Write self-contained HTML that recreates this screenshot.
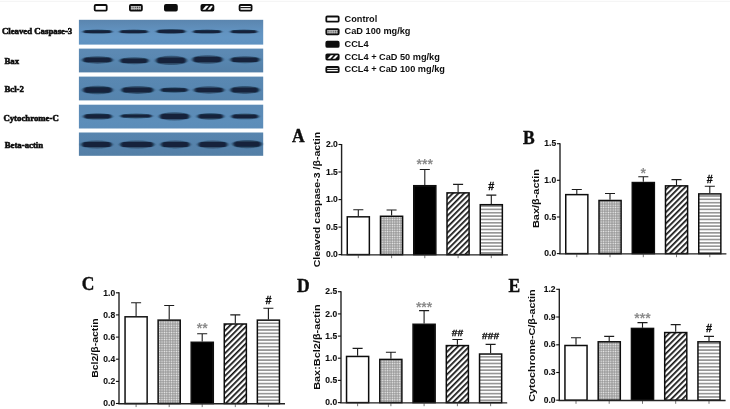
<!DOCTYPE html>
<html><head><meta charset="utf-8"><title>Figure</title>
<style>
html,body{margin:0;padding:0;background:#fff;}
body{width:730px;height:409px;overflow:hidden;}
svg{display:block;}
.sans{font-family:"Liberation Sans",sans-serif;font-weight:bold;fill:#111;}
.serif{font-family:"Liberation Serif",serif;font-weight:bold;fill:#111;}
</style></head><body>
<svg width="730" height="409" viewBox="0 0 730 409">
<defs>
<pattern id="pdot" width="2.4" height="2.4" patternUnits="userSpaceOnUse"><rect width="2.4" height="2.4" fill="#8a8a8a"/><rect x="0.45" y="0.45" width="1.5" height="1.5" fill="#f2f2f2"/></pattern>
<pattern id="pdotk" width="2.2" height="2.2" patternUnits="userSpaceOnUse"><rect width="2.2" height="2.2" fill="#c4c4c4"/><rect x="0.5" y="0.5" width="1.1" height="1.1" fill="#2a2a2a"/></pattern>
<pattern id="pdiag" width="4" height="4" patternUnits="userSpaceOnUse" patternTransform="rotate(-45)"><rect width="4" height="4" fill="#fff"/><rect width="4" height="1.7" fill="#111"/></pattern>
<pattern id="phor" width="4" height="3.35" patternUnits="userSpaceOnUse"><rect width="4" height="3.35" fill="#fff"/><rect y="1.25" width="4" height="0.85" fill="#333"/></pattern>
<linearGradient id="blot0" x1="0" y1="0" x2="0" y2="1"><stop offset="0" stop-color="rgb(90,133,174)"/><stop offset="0.4" stop-color="rgb(97,145,190)"/><stop offset="0.7" stop-color="rgb(100,150,196)"/><stop offset="1" stop-color="rgb(96,146,192)"/></linearGradient>
<linearGradient id="blot1" x1="0" y1="0" x2="0" y2="1"><stop offset="0" stop-color="rgb(92,138,180)"/><stop offset="0.4" stop-color="rgb(90,136,178)"/><stop offset="0.7" stop-color="rgb(86,131,172)"/><stop offset="1" stop-color="rgb(83,127,167)"/></linearGradient>
<linearGradient id="blot2" x1="0" y1="0" x2="0" y2="1"><stop offset="0" stop-color="rgb(90,136,178)"/><stop offset="0.4" stop-color="rgb(89,135,177)"/><stop offset="0.7" stop-color="rgb(87,133,175)"/><stop offset="1" stop-color="rgb(85,131,172)"/></linearGradient>
<linearGradient id="blot3" x1="0" y1="0" x2="0" y2="1"><stop offset="0" stop-color="rgb(91,138,181)"/><stop offset="0.4" stop-color="rgb(92,140,183)"/><stop offset="0.7" stop-color="rgb(93,142,186)"/><stop offset="1" stop-color="rgb(91,140,184)"/></linearGradient>
<linearGradient id="blot4" x1="0" y1="0" x2="0" y2="1"><stop offset="0" stop-color="rgb(88,133,174)"/><stop offset="0.4" stop-color="rgb(87,131,172)"/><stop offset="0.7" stop-color="rgb(85,129,169)"/><stop offset="1" stop-color="rgb(83,127,166)"/></linearGradient>

<filter id="b1" x="-10%" y="-60%" width="120%" height="220%"><feGaussianBlur stdDeviation="1.1 0.6"/></filter>
<filter id="soft"><feGaussianBlur stdDeviation="0.45"/></filter>
</defs>
<rect width="730" height="409" fill="#fff"/>
<rect y="0.8" width="730" height="1" fill="#f3f3f3"/>
<g filter="url(#soft)">
<rect x="78.9" y="19.8" width="184.3" height="24.8" fill="url(#blot0)"/>
<g filter="url(#b1)"><ellipse cx="97.5" cy="31.7" rx="15.5" ry="2.08" fill="#1a334d" opacity="0.6"/><rect x="84.0" y="30.36" width="27.0" height="2.69" rx="1.34" fill="#12243a"/><ellipse cx="133.8" cy="31.7" rx="15.2" ry="2.08" fill="#1a334d" opacity="0.6"/><rect x="120.5" y="30.36" width="26.5" height="2.69" rx="1.34" fill="#12243a"/><ellipse cx="171.0" cy="31.4" rx="15.5" ry="2.48" fill="#1a334d" opacity="0.6"/><rect x="157.5" y="29.80" width="27.0" height="3.20" rx="1.60" fill="#12243a"/><ellipse cx="207.2" cy="31.7" rx="15.2" ry="2.08" fill="#1a334d" opacity="0.6"/><rect x="194.0" y="30.36" width="26.5" height="2.69" rx="1.34" fill="#12243a"/><ellipse cx="243.9" cy="31.7" rx="14.4" ry="2.08" fill="#1a334d" opacity="0.6"/><rect x="231.5" y="30.36" width="24.8" height="2.69" rx="1.34" fill="#12243a"/></g>
<rect x="78.9" y="48.6" width="184.3" height="23.8" fill="url(#blot1)"/>
<g filter="url(#b1)"><ellipse cx="97.5" cy="60.0" rx="16.0" ry="3.68" fill="#1a334d" opacity="0.6"/><rect x="83.5" y="57.62" width="28.0" height="4.75" rx="2.38" fill="#12243a"/><ellipse cx="134.2" cy="60.8" rx="15.2" ry="3.46" fill="#1a334d" opacity="0.6"/><rect x="121.0" y="58.57" width="26.5" height="4.46" rx="2.23" fill="#12243a"/><ellipse cx="171.2" cy="60.4" rx="16.2" ry="4.58" fill="#1a334d" opacity="0.6"/><rect x="157.0" y="57.45" width="28.5" height="5.90" rx="2.95" fill="#12243a"/><ellipse cx="207.5" cy="59.4" rx="16.0" ry="4.24" fill="#1a334d" opacity="0.6"/><rect x="193.5" y="56.66" width="28.0" height="5.47" rx="2.74" fill="#12243a"/><ellipse cx="245.0" cy="59.7" rx="15.5" ry="3.46" fill="#1a334d" opacity="0.6"/><rect x="231.5" y="57.47" width="27.0" height="4.46" rx="2.23" fill="#12243a"/></g>
<rect x="78.9" y="76.6" width="184.3" height="23.8" fill="url(#blot2)"/>
<g filter="url(#b1)"><ellipse cx="97.7" cy="90.0" rx="15.8" ry="4.24" fill="#1a334d" opacity="0.6"/><rect x="83.9" y="87.26" width="27.6" height="5.47" rx="2.74" fill="#12243a"/><ellipse cx="137.5" cy="90.0" rx="17.0" ry="3.89" fill="#1a334d" opacity="0.6"/><rect x="122.5" y="87.49" width="30.0" height="5.02" rx="2.51" fill="#12243a"/><ellipse cx="174.2" cy="90.0" rx="14.7" ry="2.83" fill="#1a334d" opacity="0.6"/><rect x="161.5" y="88.18" width="25.4" height="3.65" rx="1.82" fill="#12243a"/><ellipse cx="209.0" cy="90.0" rx="15.9" ry="3.65" fill="#1a334d" opacity="0.6"/><rect x="195.1" y="87.64" width="27.8" height="4.71" rx="2.36" fill="#12243a"/><ellipse cx="244.8" cy="90.0" rx="15.3" ry="3.89" fill="#1a334d" opacity="0.6"/><rect x="231.5" y="87.49" width="26.6" height="5.02" rx="2.51" fill="#12243a"/></g>
<rect x="78.9" y="104.7" width="184.3" height="23.8" fill="url(#blot3)"/>
<g filter="url(#b1)"><ellipse cx="97.7" cy="116.4" rx="15.2" ry="3.19" fill="#1a334d" opacity="0.6"/><rect x="84.5" y="114.34" width="26.4" height="4.12" rx="2.06" fill="#12243a"/><ellipse cx="136.2" cy="116.0" rx="16.7" ry="2.51" fill="#1a334d" opacity="0.6"/><rect x="121.5" y="114.38" width="29.4" height="3.24" rx="1.62" fill="#12243a"/><ellipse cx="174.5" cy="116.4" rx="16.0" ry="4.11" fill="#1a334d" opacity="0.6"/><rect x="160.5" y="113.75" width="28.0" height="5.30" rx="2.65" fill="#12243a"/><ellipse cx="210.5" cy="116.4" rx="14.0" ry="3.31" fill="#1a334d" opacity="0.6"/><rect x="198.5" y="114.27" width="24.0" height="4.27" rx="2.13" fill="#12243a"/><ellipse cx="245.0" cy="116.4" rx="14.5" ry="2.97" fill="#1a334d" opacity="0.6"/><rect x="232.5" y="114.49" width="25.0" height="3.83" rx="1.91" fill="#12243a"/></g>
<rect x="78.9" y="132.5" width="184.3" height="23.3" fill="url(#blot4)"/>
<g filter="url(#b1)"><ellipse cx="96.7" cy="144.5" rx="16.2" ry="4.01" fill="#1a334d" opacity="0.6"/><rect x="82.5" y="141.92" width="28.4" height="5.17" rx="2.58" fill="#12243a"/><ellipse cx="137.0" cy="144.5" rx="17.9" ry="4.01" fill="#1a334d" opacity="0.6"/><rect x="121.1" y="141.92" width="31.8" height="5.17" rx="2.58" fill="#12243a"/><ellipse cx="175.4" cy="144.5" rx="15.5" ry="3.89" fill="#1a334d" opacity="0.6"/><rect x="161.9" y="141.99" width="27.0" height="5.02" rx="2.51" fill="#12243a"/><ellipse cx="212.8" cy="144.5" rx="15.7" ry="4.01" fill="#1a334d" opacity="0.6"/><rect x="199.1" y="141.92" width="27.4" height="5.17" rx="2.58" fill="#12243a"/><ellipse cx="247.2" cy="144.1" rx="15.3" ry="4.12" fill="#1a334d" opacity="0.6"/><rect x="233.9" y="141.44" width="26.6" height="5.32" rx="2.66" fill="#12243a"/></g>
<text class="serif" transform="translate(1.9 34.1) scale(0.975 1)" font-size="9" stroke="#111" stroke-width="0.6">Cleaved Caspase-3</text>
<text class="serif" transform="translate(4.4 63.5) scale(0.975 1)" font-size="9" stroke="#111" stroke-width="0.6">Bax</text>
<text class="serif" transform="translate(4.4 91.9) scale(0.975 1)" font-size="9" stroke="#111" stroke-width="0.6">Bcl-2</text>
<text class="serif" transform="translate(3.4 120.9) scale(0.975 1)" font-size="9" stroke="#111" stroke-width="0.6">Cytochrome-C</text>
<text class="serif" transform="translate(4.7 148.0) scale(0.975 1)" font-size="9" stroke="#111" stroke-width="0.6">Beta-actin</text>
<rect x="94.7" y="5.0" width="12.0" height="5.6" rx="1" fill="#fff" stroke="#111" stroke-width="1.8"/>
<rect x="129.9" y="5.0" width="12.0" height="5.6" rx="1" fill="url(#pdotk)" stroke="#111" stroke-width="1.8"/>
<rect x="164.9" y="5.0" width="12.0" height="5.6" rx="1" fill="#111" stroke="#111" stroke-width="1.8"/>
<rect x="201.4" y="5.0" width="12.0" height="5.6" rx="1" fill="#111" stroke="#111" stroke-width="1.8"/><path d="M202.50 9.80 L205.90 5.80 L208.70 5.80 L205.30 9.80 Z M207.50 9.80 L210.90 5.80 L212.50 5.80 L212.50 6.60 L210.30 9.80 Z" fill="#fff"/>
<rect x="239.6" y="5.0" width="12.0" height="5.6" rx="1" fill="#fff" stroke="#111" stroke-width="1.8"/><rect x="240.29999999999998" y="7.05" width="10.6" height="1.1" fill="#111"/>
<rect x="326.3" y="16.5" width="12.4" height="5.2" rx="1" fill="#fff" stroke="#111" stroke-width="1.8"/>
<text class="sans" x="344.6" y="21.8" font-size="9.2">Control</text>
<rect x="326.3" y="29.119999999999997" width="12.4" height="5.2" rx="1" fill="url(#pdotk)" stroke="#111" stroke-width="1.8"/>
<text class="sans" x="344.6" y="34.4" font-size="9.2">CaD 100 mg/kg</text>
<rect x="326.3" y="41.74" width="12.4" height="5.2" rx="1" fill="#111" stroke="#111" stroke-width="1.8"/>
<text class="sans" x="344.6" y="47.0" font-size="9.2">CCL4</text>
<rect x="326.3" y="54.36" width="12.4" height="5.2" rx="1" fill="#111" stroke="#111" stroke-width="1.8"/><path d="M327.40 58.76 L330.80 55.16 L333.60 55.16 L330.20 58.76 Z M332.40 58.76 L335.80 55.16 L337.80 55.16 L337.80 55.96 L335.20 58.76 Z" fill="#fff"/>
<text class="sans" x="344.6" y="59.7" font-size="9.2">CCL4 + CaD 50 mg/kg</text>
<rect x="326.3" y="66.98" width="12.4" height="5.2" rx="1" fill="#fff" stroke="#111" stroke-width="1.8"/><rect x="327.0" y="68.83" width="11.0" height="1.1" fill="#111"/>
<text class="sans" x="344.6" y="72.3" font-size="9.2">CCL4 + CaD 100 mg/kg</text>
<path d="M358.3 216.1 V209.7 M353.3 209.7 H363.3" stroke="#1a1a1a" stroke-width="1.1" fill="none"/><rect x="347.25" y="216.81" width="22.10" height="37.78" fill="#fff" stroke="#111" stroke-width="1.5"/><path d="M358.3 254.6 v3.6" stroke="#666" stroke-width="0.9"/>
<path d="M391.6 215.5 V210.0 M386.6 210.0 H396.6" stroke="#1a1a1a" stroke-width="1.1" fill="none"/><rect x="380.50" y="216.26" width="22.10" height="38.34" fill="url(#pdot)" stroke="#111" stroke-width="1.5"/><path d="M391.6 254.6 v3.6" stroke="#666" stroke-width="0.9"/>
<path d="M424.8 185.0 V169.5 M419.8 169.5 H429.8" stroke="#1a1a1a" stroke-width="1.1" fill="none"/><rect x="413.75" y="185.71" width="22.10" height="68.89" fill="#000" stroke="#111" stroke-width="1.5"/><path d="M424.8 254.6 v3.6" stroke="#666" stroke-width="0.9"/>
<path d="M458.1 192.1 V184.4 M453.1 184.4 H463.1" stroke="#1a1a1a" stroke-width="1.1" fill="none"/><rect x="447.00" y="192.87" width="22.10" height="61.73" fill="url(#pdiag)" stroke="#111" stroke-width="1.5"/><path d="M458.1 254.6 v3.6" stroke="#666" stroke-width="0.9"/>
<path d="M491.3 204.0 V195.1 M486.3 195.1 H496.3" stroke="#1a1a1a" stroke-width="1.1" fill="none"/><rect x="480.25" y="204.70" width="22.10" height="49.90" fill="url(#phor)" stroke="#111" stroke-width="1.5"/><path d="M491.3 254.6 v3.6" stroke="#666" stroke-width="0.9"/>
<path d="M341.6 144.0 V254.9 H507.9" stroke="#222" stroke-width="1.4" fill="none"/><path d="M338.5 254.6 H341.6" stroke="#111" stroke-width="1.1"/><text class="sans" x="337.8" y="257.3" font-size="8.5" text-anchor="end" stroke="#111" stroke-width="0.12">0.0</text><path d="M338.5 227.1 H341.6" stroke="#111" stroke-width="1.1"/><text class="sans" x="337.8" y="229.8" font-size="8.5" text-anchor="end" stroke="#111" stroke-width="0.12">0.5</text><path d="M338.5 199.6 H341.6" stroke="#111" stroke-width="1.1"/><text class="sans" x="337.8" y="202.2" font-size="8.5" text-anchor="end" stroke="#111" stroke-width="0.12">1.0</text><path d="M338.5 172.0 H341.6" stroke="#111" stroke-width="1.1"/><text class="sans" x="337.8" y="174.7" font-size="8.5" text-anchor="end" stroke="#111" stroke-width="0.12">1.5</text><path d="M338.5 144.5 H341.6" stroke="#111" stroke-width="1.1"/><text class="sans" x="337.8" y="147.2" font-size="8.5" text-anchor="end" stroke="#111" stroke-width="0.12">2.0</text>
<text class="sans" transform="translate(320.0 199.6) rotate(-90) scale(1.105 1)" font-size="9.6" text-anchor="middle">Cleaved caspase-3 /β-actin</text>
<text class="serif" transform="translate(292.1 141.8) scale(1 1.02)" font-size="17.5" stroke="#111" stroke-width="0.4">A</text>
<text x="424.8" y="168.9" font-size="14" text-anchor="middle" fill="#8c8c8c" font-weight="bold" font-family="'Liberation Sans',sans-serif">***</text><text class="sans" transform="translate(491.3 189.9) scale(1.04 1)" font-size="10.4" text-anchor="middle" stroke="#111" stroke-width="0.3">#</text>
<path d="M576.8 193.9 V189.5 M571.8 189.5 H581.8" stroke="#1a1a1a" stroke-width="1.1" fill="none"/><rect x="565.75" y="194.64" width="22.10" height="58.96" fill="#fff" stroke="#111" stroke-width="1.5"/><path d="M576.8 253.6 v3.6" stroke="#666" stroke-width="0.9"/>
<path d="M610.0 199.7 V193.5 M605.0 193.5 H615.0" stroke="#1a1a1a" stroke-width="1.1" fill="none"/><rect x="599.00" y="200.50" width="22.10" height="53.10" fill="url(#pdot)" stroke="#111" stroke-width="1.5"/><path d="M610.0 253.6 v3.6" stroke="#666" stroke-width="0.9"/>
<path d="M643.3 181.8 V176.7 M638.3 176.7 H648.3" stroke="#1a1a1a" stroke-width="1.1" fill="none"/><rect x="632.25" y="182.55" width="22.10" height="71.05" fill="#000" stroke="#111" stroke-width="1.5"/><path d="M643.3 253.6 v3.6" stroke="#666" stroke-width="0.9"/>
<path d="M676.5 185.1 V179.6 M671.5 179.6 H681.5" stroke="#1a1a1a" stroke-width="1.1" fill="none"/><rect x="665.50" y="185.85" width="22.10" height="67.75" fill="url(#pdiag)" stroke="#111" stroke-width="1.5"/><path d="M676.5 253.6 v3.6" stroke="#666" stroke-width="0.9"/>
<path d="M709.8 193.2 V186.2 M704.8 186.2 H714.8" stroke="#1a1a1a" stroke-width="1.1" fill="none"/><rect x="698.75" y="193.91" width="22.10" height="59.69" fill="url(#phor)" stroke="#111" stroke-width="1.5"/><path d="M709.8 253.6 v3.6" stroke="#666" stroke-width="0.9"/>
<path d="M560 143.2 V253.9 H726.4" stroke="#222" stroke-width="1.4" fill="none"/><path d="M556.9 253.6 H560" stroke="#111" stroke-width="1.1"/><text class="sans" x="556.2" y="256.3" font-size="8.5" text-anchor="end" stroke="#111" stroke-width="0.12">0.0</text><path d="M556.9 217.0 H560" stroke="#111" stroke-width="1.1"/><text class="sans" x="556.2" y="219.7" font-size="8.5" text-anchor="end" stroke="#111" stroke-width="0.12">0.5</text><path d="M556.9 180.3 H560" stroke="#111" stroke-width="1.1"/><text class="sans" x="556.2" y="183.0" font-size="8.5" text-anchor="end" stroke="#111" stroke-width="0.12">1.0</text><path d="M556.9 143.7 H560" stroke="#111" stroke-width="1.1"/><text class="sans" x="556.2" y="146.4" font-size="8.5" text-anchor="end" stroke="#111" stroke-width="0.12">1.5</text>
<text class="sans" transform="translate(539.2 198.6) rotate(-90) scale(1.142 1)" font-size="9.6" text-anchor="middle">Bax/β-actin</text>
<text class="serif" transform="translate(522.9 144.4) scale(1 1.02)" font-size="17.5" stroke="#111" stroke-width="0.4">B</text>
<text x="643.3" y="178.2" font-size="14" text-anchor="middle" fill="#8c8c8c" font-weight="bold" font-family="'Liberation Sans',sans-serif">*</text><text class="sans" transform="translate(709.8 183.3) scale(1.04 1)" font-size="10.4" text-anchor="middle" stroke="#111" stroke-width="0.3">#</text>
<path d="M136.1 316.0 V302.8 M131.1 302.8 H141.1" stroke="#1a1a1a" stroke-width="1.1" fill="none"/><rect x="125.05" y="316.80" width="22.10" height="86.70" fill="#fff" stroke="#111" stroke-width="1.5"/><path d="M136.1 403.5 v3.6" stroke="#666" stroke-width="0.9"/>
<path d="M169.2 319.4 V305.5 M164.2 305.5 H174.2" stroke="#1a1a1a" stroke-width="1.1" fill="none"/><rect x="158.12" y="320.12" width="22.10" height="83.38" fill="url(#pdot)" stroke="#111" stroke-width="1.5"/><path d="M169.2 403.5 v3.6" stroke="#666" stroke-width="0.9"/>
<path d="M202.2 341.5 V333.8 M197.2 333.8 H207.2" stroke="#1a1a1a" stroke-width="1.1" fill="none"/><rect x="191.19" y="342.26" width="22.10" height="61.24" fill="#000" stroke="#111" stroke-width="1.5"/><path d="M202.2 403.5 v3.6" stroke="#666" stroke-width="0.9"/>
<path d="M235.3 323.2 V314.9 M230.3 314.9 H240.3" stroke="#1a1a1a" stroke-width="1.1" fill="none"/><rect x="224.26" y="323.99" width="22.10" height="79.51" fill="url(#pdiag)" stroke="#111" stroke-width="1.5"/><path d="M235.3 403.5 v3.6" stroke="#666" stroke-width="0.9"/>
<path d="M268.4 319.4 V308.3 M263.4 308.3 H273.4" stroke="#1a1a1a" stroke-width="1.1" fill="none"/><rect x="257.33" y="320.12" width="22.10" height="83.38" fill="url(#phor)" stroke="#111" stroke-width="1.5"/><path d="M268.4 403.5 v3.6" stroke="#666" stroke-width="0.9"/>
<path d="M119.0 292.3 V403.8 H285.0" stroke="#222" stroke-width="1.4" fill="none"/><path d="M115.9 403.5 H119.0" stroke="#111" stroke-width="1.1"/><text class="sans" x="115.2" y="406.2" font-size="8.5" text-anchor="end" stroke="#111" stroke-width="0.12">0.0</text><path d="M115.9 381.4 H119.0" stroke="#111" stroke-width="1.1"/><text class="sans" x="115.2" y="384.1" font-size="8.5" text-anchor="end" stroke="#111" stroke-width="0.12">0.2</text><path d="M115.9 359.2 H119.0" stroke="#111" stroke-width="1.1"/><text class="sans" x="115.2" y="361.9" font-size="8.5" text-anchor="end" stroke="#111" stroke-width="0.12">0.4</text><path d="M115.9 337.1 H119.0" stroke="#111" stroke-width="1.1"/><text class="sans" x="115.2" y="339.8" font-size="8.5" text-anchor="end" stroke="#111" stroke-width="0.12">0.6</text><path d="M115.9 314.9 H119.0" stroke="#111" stroke-width="1.1"/><text class="sans" x="115.2" y="317.6" font-size="8.5" text-anchor="end" stroke="#111" stroke-width="0.12">0.8</text><path d="M115.9 292.8 H119.0" stroke="#111" stroke-width="1.1"/><text class="sans" x="115.2" y="295.5" font-size="8.5" text-anchor="end" stroke="#111" stroke-width="0.12">1.0</text>
<text class="sans" transform="translate(97.6 348.1) rotate(-90) scale(1.095 1)" font-size="9.6" text-anchor="middle">Bcl2/β-actin</text>
<text class="serif" transform="translate(81.8 289.9) scale(1 1.02)" font-size="17.5" stroke="#111" stroke-width="0.4">C</text>
<text x="202.2" y="332.6" font-size="14" text-anchor="middle" fill="#8c8c8c" font-weight="bold" font-family="'Liberation Sans',sans-serif">**</text><text class="sans" transform="translate(268.4 303.9) scale(1.04 1)" font-size="10.4" text-anchor="middle" stroke="#111" stroke-width="0.3">#</text>
<path d="M357.6 355.7 V348.4 M352.6 348.4 H362.6" stroke="#1a1a1a" stroke-width="1.1" fill="none"/><rect x="346.55" y="356.46" width="22.10" height="46.14" fill="#fff" stroke="#111" stroke-width="1.5"/><path d="M357.6 402.6 v3.6" stroke="#666" stroke-width="0.9"/>
<path d="M390.9 358.7 V352.3 M385.9 352.3 H395.9" stroke="#1a1a1a" stroke-width="1.1" fill="none"/><rect x="379.80" y="359.43" width="22.10" height="43.17" fill="url(#pdot)" stroke="#111" stroke-width="1.5"/><path d="M390.9 402.6 v3.6" stroke="#666" stroke-width="0.9"/>
<path d="M424.1 323.5 V310.6 M419.1 310.6 H429.1" stroke="#1a1a1a" stroke-width="1.1" fill="none"/><rect x="413.05" y="324.26" width="22.10" height="78.34" fill="#000" stroke="#111" stroke-width="1.5"/><path d="M424.1 402.6 v3.6" stroke="#666" stroke-width="0.9"/>
<path d="M457.4 344.8 V339.5 M452.4 339.5 H462.4" stroke="#1a1a1a" stroke-width="1.1" fill="none"/><rect x="446.30" y="345.59" width="22.10" height="57.01" fill="url(#pdiag)" stroke="#111" stroke-width="1.5"/><path d="M457.4 402.6 v3.6" stroke="#666" stroke-width="0.9"/>
<path d="M490.6 353.3 V344.4 M485.6 344.4 H495.6" stroke="#1a1a1a" stroke-width="1.1" fill="none"/><rect x="479.55" y="354.02" width="22.10" height="48.58" fill="url(#phor)" stroke="#111" stroke-width="1.5"/><path d="M490.6 402.6 v3.6" stroke="#666" stroke-width="0.9"/>
<path d="M341.0 291.2 V402.9 H507.2" stroke="#222" stroke-width="1.4" fill="none"/><path d="M337.9 402.6 H341.0" stroke="#111" stroke-width="1.1"/><text class="sans" x="337.2" y="405.3" font-size="8.5" text-anchor="end" stroke="#111" stroke-width="0.12">0.0</text><path d="M337.9 380.4 H341.0" stroke="#111" stroke-width="1.1"/><text class="sans" x="337.2" y="383.1" font-size="8.5" text-anchor="end" stroke="#111" stroke-width="0.12">0.5</text><path d="M337.9 358.2 H341.0" stroke="#111" stroke-width="1.1"/><text class="sans" x="337.2" y="360.9" font-size="8.5" text-anchor="end" stroke="#111" stroke-width="0.12">1.0</text><path d="M337.9 336.1 H341.0" stroke="#111" stroke-width="1.1"/><text class="sans" x="337.2" y="338.8" font-size="8.5" text-anchor="end" stroke="#111" stroke-width="0.12">1.5</text><path d="M337.9 313.9 H341.0" stroke="#111" stroke-width="1.1"/><text class="sans" x="337.2" y="316.6" font-size="8.5" text-anchor="end" stroke="#111" stroke-width="0.12">2.0</text><path d="M337.9 291.7 H341.0" stroke="#111" stroke-width="1.1"/><text class="sans" x="337.2" y="294.4" font-size="8.5" text-anchor="end" stroke="#111" stroke-width="0.12">2.5</text>
<text class="sans" transform="translate(319.9 347.1) rotate(-90) scale(1.139 1)" font-size="9.6" text-anchor="middle">Bax:Bcl2/β-actin</text>
<text class="serif" transform="translate(297.0 291.8) scale(1 1.02)" font-size="17.5" stroke="#111" stroke-width="0.4">D</text>
<text x="424.1" y="311.7" font-size="14" text-anchor="middle" fill="#8c8c8c" font-weight="bold" font-family="'Liberation Sans',sans-serif">***</text><text class="sans" transform="translate(457.4 335.5) scale(1.14 1)" font-size="9" text-anchor="middle" stroke="#111" stroke-width="0.3">##</text><text class="sans" transform="translate(490.6 339.4) scale(1.14 1)" font-size="9" text-anchor="middle" stroke="#111" stroke-width="0.3">###</text>
<path d="M576.0 344.8 V337.8 M571.0 337.8 H581.0" stroke="#1a1a1a" stroke-width="1.1" fill="none"/><rect x="564.95" y="345.50" width="22.10" height="54.70" fill="#fff" stroke="#111" stroke-width="1.5"/><path d="M576.0 400.2 v3.6" stroke="#666" stroke-width="0.9"/>
<path d="M609.2 341.1 V336.4 M604.2 336.4 H614.2" stroke="#1a1a1a" stroke-width="1.1" fill="none"/><rect x="598.20" y="341.80" width="22.10" height="58.40" fill="url(#pdot)" stroke="#111" stroke-width="1.5"/><path d="M609.2 400.2 v3.6" stroke="#666" stroke-width="0.9"/>
<path d="M642.5 327.7 V322.6 M637.5 322.6 H647.5" stroke="#1a1a1a" stroke-width="1.1" fill="none"/><rect x="631.45" y="328.40" width="22.10" height="71.80" fill="#000" stroke="#111" stroke-width="1.5"/><path d="M642.5 400.2 v3.6" stroke="#666" stroke-width="0.9"/>
<path d="M675.7 331.8 V324.6 M670.7 324.6 H680.7" stroke="#1a1a1a" stroke-width="1.1" fill="none"/><rect x="664.70" y="332.56" width="22.10" height="67.64" fill="url(#pdiag)" stroke="#111" stroke-width="1.5"/><path d="M675.7 400.2 v3.6" stroke="#666" stroke-width="0.9"/>
<path d="M709.0 341.1 V336.4 M704.0 336.4 H714.0" stroke="#1a1a1a" stroke-width="1.1" fill="none"/><rect x="697.95" y="341.80" width="22.10" height="58.40" fill="url(#phor)" stroke="#111" stroke-width="1.5"/><path d="M709.0 400.2 v3.6" stroke="#666" stroke-width="0.9"/>
<path d="M559.3 288.8 V400.5 H725.6" stroke="#222" stroke-width="1.4" fill="none"/><path d="M556.2 400.2 H559.3" stroke="#111" stroke-width="1.1"/><text class="sans" x="555.5" y="402.9" font-size="8.5" text-anchor="end" stroke="#111" stroke-width="0.12">0.0</text><path d="M556.2 372.5 H559.3" stroke="#111" stroke-width="1.1"/><text class="sans" x="555.5" y="375.2" font-size="8.5" text-anchor="end" stroke="#111" stroke-width="0.12">0.3</text><path d="M556.2 344.8 H559.3" stroke="#111" stroke-width="1.1"/><text class="sans" x="555.5" y="347.4" font-size="8.5" text-anchor="end" stroke="#111" stroke-width="0.12">0.6</text><path d="M556.2 317.0 H559.3" stroke="#111" stroke-width="1.1"/><text class="sans" x="555.5" y="319.7" font-size="8.5" text-anchor="end" stroke="#111" stroke-width="0.12">0.9</text><path d="M556.2 289.3 H559.3" stroke="#111" stroke-width="1.1"/><text class="sans" x="555.5" y="292.0" font-size="8.5" text-anchor="end" stroke="#111" stroke-width="0.12">1.2</text>
<text class="sans" transform="translate(535.3 345.6) rotate(-90) scale(1.123 1)" font-size="9.6" text-anchor="middle">Cytochrome-C/β-actin</text>
<text class="serif" transform="translate(508.6 292.4) scale(1 1.02)" font-size="17.5" stroke="#111" stroke-width="0.4">E</text>
<text x="642.5" y="323.3" font-size="14" text-anchor="middle" fill="#8c8c8c" font-weight="bold" font-family="'Liberation Sans',sans-serif">***</text><text class="sans" transform="translate(709.0 331.9) scale(1.04 1)" font-size="10.4" text-anchor="middle" stroke="#111" stroke-width="0.3">#</text>
</g>
</svg>
</body></html>
